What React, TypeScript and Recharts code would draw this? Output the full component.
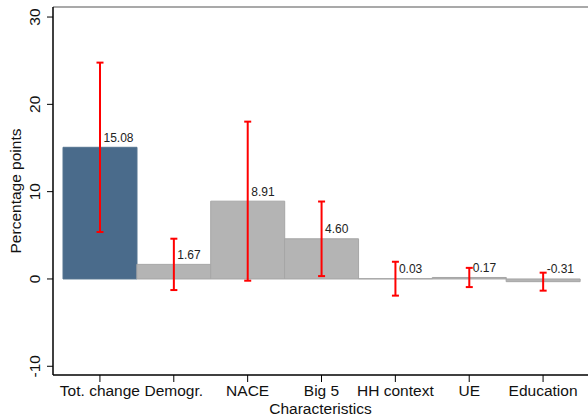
import React from 'react';
import {
  ComposedChart, Bar, Cell, XAxis, YAxis, ErrorBar, LabelList, ReferenceLine, Label
} from 'recharts';

const categories = ['Tot. change', 'Demogr.', 'NACE', 'Big 5', 'HH context', 'UE', 'Education'];
const values = [15.08, 1.67, 8.91, 4.6, 0.03, 0.17, -0.31];
const ciLow = [5.38, -1.27, -0.2, 0.33, -1.91, -0.93, -1.34];
const ciHigh = [24.78, 4.61, 18.02, 8.87, 1.97, 1.27, 0.72];
const yTicks = [-10, 0, 10, 20, 30];

const Y_MIN = -11;
const Y_MAX = 31.15;

const FONT = '"Liberation Sans", Arial, Helvetica, sans-serif';
const BLUE = '#4a6b8b';
const GREY = '#b4b4b4';

const data = categories.map((name, i) => ({
  name,
  value: values[i],
  err: [values[i] - ciLow[i], ciHigh[i] - values[i]],
}));

const YTick = (props: any) => {
  const { x, y, payload } = props;
  const bx = x - 5;
  return (
    <text x={bx} y={y} transform={`rotate(-90, ${bx}, ${y})`} textAnchor="middle"
      fontSize={15.5} fontFamily={FONT} fill="#111">
      {payload.value}
    </text>
  );
};

const XTick = (props: any) => {
  const { x, y, payload } = props;
  return (
    <text x={x} y={y + 12} textAnchor="middle" fontSize={15.5} fontFamily={FONT} fill="#111">
      {payload.value}
    </text>
  );
};

const ValueLabel = (props: any) => {
  const { x, y, width, height, value } = props;
  const top = Math.min(y, y + height);
  return (
    <text x={x + width / 2 + 3.5} y={top - 5.5} textAnchor="start" fontSize={12}
      fontFamily={FONT} fill="#222">
      {Number(value).toFixed(2)}
    </text>
  );
};

export default function App() {
  return (
    <div style={{ position: 'absolute', left: 0, top: 0, width: 588, height: 420, background: '#fff' }}>
      <ComposedChart width={588} height={420} data={data} barCategoryGap={0}
        margin={{ top: 7, right: 0, left: 0, bottom: 0 }}>
        <XAxis dataKey="name" height={45} tickSize={7} tick={<XTick />} interval={0}
          padding={{ left: 10, right: 8 }} axisLine={{ stroke: '#000', strokeWidth: 1.5 }}
          tickLine={{ stroke: '#000' }}>
          <Label content={(p: any) => {
            const vb = p.viewBox;
            return (
              <text x={vb.x + vb.width / 2} y={414} textAnchor="middle" fontSize={15.5}
                fontFamily={FONT} fill="#111">Characteristics</text>
            );
          }} />
        </XAxis>
        <YAxis width={53} domain={[Y_MIN, Y_MAX]} ticks={yTicks} allowDataOverflow
          tickSize={6} tick={<YTick />} axisLine={{ stroke: '#000', strokeWidth: 1.5 }}
          tickLine={{ stroke: '#000' }}>
          <Label content={(p: any) => {
            const vb = p.viewBox;
            const cy = vb.y + vb.height / 2;
            return (
              <text x={21} y={cy} transform={`rotate(-90, 21, ${cy})`} textAnchor="middle"
                fontSize={15.5} fontFamily={FONT} fill="#111">Percentage points</text>
            );
          }} />
        </YAxis>
        <ReferenceLine y={Y_MAX} stroke="#8c8c8c" strokeWidth={1.5} />
        <Bar dataKey="value" isAnimationActive={false} strokeWidth={1}>
          {data.map((d, i) => (
            <Cell key={d.name} fill={i === 0 ? BLUE : GREY} stroke={i === 0 ? '#557590' : '#a6a6a6'} />
          ))}
          <ErrorBar dataKey="err" direction="y" width={3.5} stroke="#ff0000" strokeWidth={2} />
          <LabelList dataKey="value" content={<ValueLabel />} />
        </Bar>
      </ComposedChart>
    </div>
  );
}
